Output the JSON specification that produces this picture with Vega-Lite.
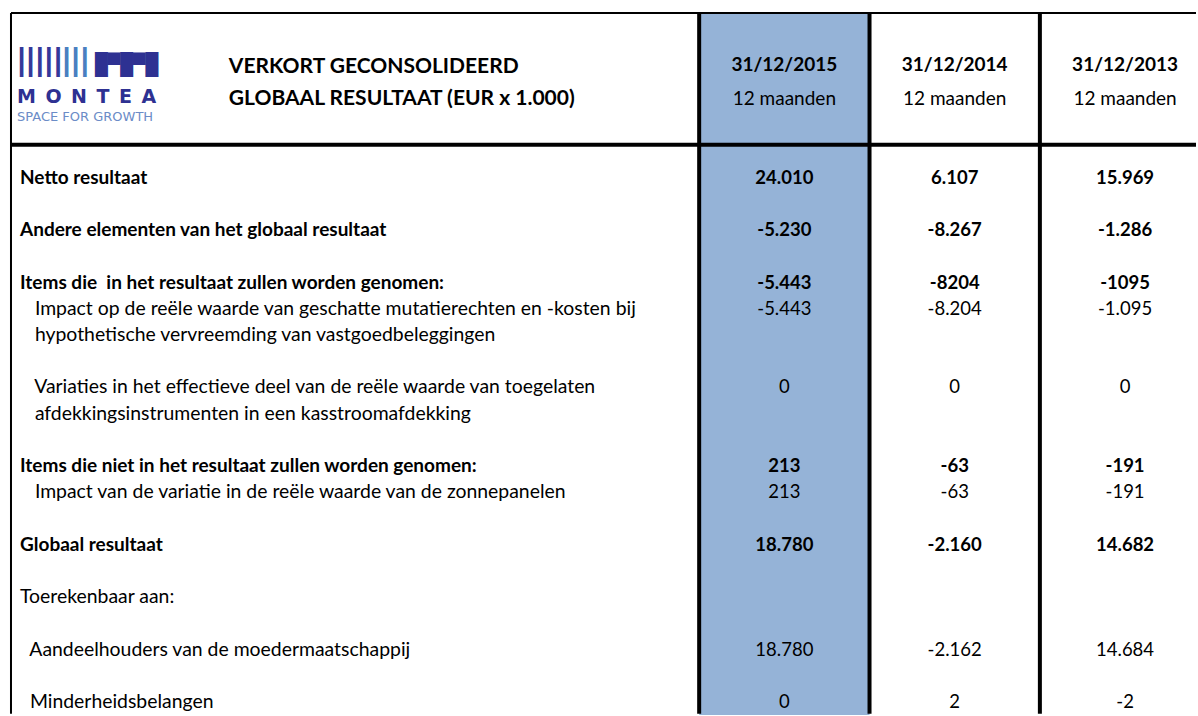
{
  "$schema": "https://vega.github.io/schema/vega-lite/v6.json",
  "width": 1198,
  "height": 716,
  "padding": 0,
  "autosize": {"type": "fit", "contains": "padding"},
  "background": "white",
  "config": {"view": {"stroke": null}, "text": {"font": "Lato", "fontSize": 18.5, "color": "#000000", "baseline": "middle"}},
  "datasets": {
    "periods": [
      {"period": "31/12/2015", "col": 1, "months": "12 maanden", "current": true},
      {"period": "31/12/2014", "col": 2, "months": "12 maanden", "current": false},
      {"period": "31/12/2013", "col": 3, "months": "12 maanden", "current": false}
    ],
    "labels": [
      {"line": 0, "label": "Netto resultaat", "level": "total"},
      {"line": 2, "label": "Andere elementen van het globaal resultaat", "level": "total"},
      {"line": 4, "label": "Items die\u00a0 in het resultaat zullen worden genomen:", "level": "total"},
      {"line": 5, "label": "\u200b\u00a0\u00a0\u00a0Impact op de reële waarde van geschatte mutatierechten en -kosten bij", "level": "detail"},
      {"line": 6, "label": "\u200b\u00a0\u00a0\u00a0hypothetische vervreemding van vastgoedbeleggingen", "level": "detail"},
      {"line": 8, "label": "\u200b\u00a0\u00a0\u00a0Variaties in het effectieve deel van de reële waarde van toegelaten", "level": "detail"},
      {"line": 9, "label": "\u200b\u00a0\u00a0\u00a0afdekkingsinstrumenten in een kasstroomafdekking", "level": "detail"},
      {"line": 11, "label": "Items die niet in het resultaat zullen worden genomen:", "level": "total"},
      {"line": 12, "label": "\u200b\u00a0\u00a0\u00a0Impact van de variatie in de reële waarde van de zonnepanelen", "level": "detail"},
      {"line": 14, "label": "Globaal resultaat", "level": "total"},
      {"line": 16, "label": "Toerekenbaar aan:", "level": "detail"},
      {"line": 18, "label": "\u200b\u00a0\u00a0Aandeelhouders van de moedermaatschappij", "level": "detail"},
      {"line": 20, "label": "\u200b\u00a0\u00a0Minderheidsbelangen", "level": "detail"}
    ],
    "cells": [
      {"line": 0, "period": "31/12/2015", "value": "24.010", "level": "total"},
      {"line": 0, "period": "31/12/2014", "value": "6.107", "level": "total"},
      {"line": 0, "period": "31/12/2013", "value": "15.969", "level": "total"},
      {"line": 2, "period": "31/12/2015", "value": "-5.230", "level": "total"},
      {"line": 2, "period": "31/12/2014", "value": "-8.267", "level": "total"},
      {"line": 2, "period": "31/12/2013", "value": "-1.286", "level": "total"},
      {"line": 4, "period": "31/12/2015", "value": "-5.443", "level": "total"},
      {"line": 4, "period": "31/12/2014", "value": "-8204", "level": "total"},
      {"line": 4, "period": "31/12/2013", "value": "-1095", "level": "total"},
      {"line": 5, "period": "31/12/2015", "value": "-5.443", "level": "detail"},
      {"line": 5, "period": "31/12/2014", "value": "-8.204", "level": "detail"},
      {"line": 5, "period": "31/12/2013", "value": "-1.095", "level": "detail"},
      {"line": 8, "period": "31/12/2015", "value": "0", "level": "detail"},
      {"line": 8, "period": "31/12/2014", "value": "0", "level": "detail"},
      {"line": 8, "period": "31/12/2013", "value": "0", "level": "detail"},
      {"line": 11, "period": "31/12/2015", "value": "213", "level": "total"},
      {"line": 11, "period": "31/12/2014", "value": "-63", "level": "total"},
      {"line": 11, "period": "31/12/2013", "value": "-191", "level": "total"},
      {"line": 12, "period": "31/12/2015", "value": "213", "level": "detail"},
      {"line": 12, "period": "31/12/2014", "value": "-63", "level": "detail"},
      {"line": 12, "period": "31/12/2013", "value": "-191", "level": "detail"},
      {"line": 14, "period": "31/12/2015", "value": "18.780", "level": "total"},
      {"line": 14, "period": "31/12/2014", "value": "-2.160", "level": "total"},
      {"line": 14, "period": "31/12/2013", "value": "14.682", "level": "total"},
      {"line": 18, "period": "31/12/2015", "value": "18.780", "level": "detail"},
      {"line": 18, "period": "31/12/2014", "value": "-2.162", "level": "detail"},
      {"line": 18, "period": "31/12/2013", "value": "14.684", "level": "detail"},
      {"line": 20, "period": "31/12/2015", "value": "0", "level": "detail"},
      {"line": 20, "period": "31/12/2014", "value": "2", "level": "detail"},
      {"line": 20, "period": "31/12/2013", "value": "-2", "level": "detail"}
    ]
  },
  "layer": [
    {
      "data": {"name": "periods"},
      "transform": [{"filter": "datum.current"}],
      "mark": {"type": "rect", "color": "#95B3D7"},
      "encoding": {
        "x": {"datum": 0.5, "type": "quantitative", "scale": {"domain": [-3.60411, 3.42229], "nice": false, "zero": false}, "axis": null},
        "x2": {"datum": 1.5},
        "y": {"datum": -6.286, "type": "quantitative", "scale": {"domain": [-6.781, 20.495], "nice": false, "zero": false, "reverse": true}, "axis": null},
        "y2": {"datum": 20.495}
      }
    },
    {
      "data": {"values": [{}]},
      "mark": {"type": "rule", "color": "#000000", "strokeWidth": 2},
      "encoding": {
        "x": {"datum": -3.5396, "type": "quantitative", "scale": {"domain": [-3.60411, 3.42229], "nice": false, "zero": false}, "axis": null},
        "x2": {"datum": 3.4164},
        "y": {"datum": -6.286, "type": "quantitative", "scale": {"domain": [-6.781, 20.495], "nice": false, "zero": false, "reverse": true}, "axis": null}
      }
    },
    {
      "data": {"values": [{}]},
      "mark": {"type": "rule", "color": "#000000", "strokeWidth": 4},
      "encoding": {
        "x": {"datum": -3.5396, "type": "quantitative", "scale": {"domain": [-3.60411, 3.42229], "nice": false, "zero": false}, "axis": null},
        "x2": {"datum": 3.4164},
        "y": {"datum": -1.2571, "type": "quantitative", "scale": {"domain": [-6.781, 20.495], "nice": false, "zero": false, "reverse": true}, "axis": null}
      }
    },
    {
      "data": {"values": [{}]},
      "mark": {"type": "rule", "color": "#000000", "strokeWidth": 2},
      "encoding": {
        "x": {"datum": -3.5396, "type": "quantitative", "scale": {"domain": [-3.60411, 3.42229], "nice": false, "zero": false}, "axis": null},
        "y": {"datum": -6.286, "type": "quantitative", "scale": {"domain": [-6.781, 20.495], "nice": false, "zero": false, "reverse": true}, "axis": null},
        "y2": {"datum": 20.45}
      }
    },
    {
      "data": {"values": [{}]},
      "mark": {"type": "rule", "color": "#000000", "strokeWidth": 4},
      "encoding": {
        "x": {"datum": 0.5, "type": "quantitative", "scale": {"domain": [-3.60411, 3.42229], "nice": false, "zero": false}, "axis": null},
        "y": {"datum": -6.286, "type": "quantitative", "scale": {"domain": [-6.781, 20.495], "nice": false, "zero": false, "reverse": true}, "axis": null},
        "y2": {"datum": 20.45}
      }
    },
    {
      "data": {"values": [{}]},
      "mark": {"type": "rule", "color": "#000000", "strokeWidth": 4},
      "encoding": {
        "x": {"datum": 1.5, "type": "quantitative", "scale": {"domain": [-3.60411, 3.42229], "nice": false, "zero": false}, "axis": null},
        "y": {"datum": -6.286, "type": "quantitative", "scale": {"domain": [-6.781, 20.495], "nice": false, "zero": false, "reverse": true}, "axis": null},
        "y2": {"datum": 20.45}
      }
    },
    {
      "data": {"values": [{}]},
      "mark": {"type": "rule", "color": "#000000", "strokeWidth": 4},
      "encoding": {
        "x": {"datum": 2.5, "type": "quantitative", "scale": {"domain": [-3.60411, 3.42229], "nice": false, "zero": false}, "axis": null},
        "y": {"datum": -6.286, "type": "quantitative", "scale": {"domain": [-6.781, 20.495], "nice": false, "zero": false, "reverse": true}, "axis": null},
        "y2": {"datum": 20.45}
      }
    },
    {
      "data": {"values": [{"text": "lllll"}]},
      "mark": {"type": "text", "font": "Liberation Sans", "fontSize": 41, "color": "#34399A", "align": "left", "baseline": "alphabetic"},
      "encoding": {
        "x": {"datum": -3.5044, "type": "quantitative", "scale": {"domain": [-3.60411, 3.42229], "nice": false, "zero": false}, "axis": null},
        "y": {"datum": -3.848, "type": "quantitative", "scale": {"domain": [-6.781, 20.495], "nice": false, "zero": false, "reverse": true}, "axis": null},
        "text": {"field": "text"}
      }
    },
    {
      "data": {"values": [{"text": "lll"}]},
      "mark": {"type": "text", "font": "Liberation Sans", "fontSize": 41, "color": "#4A7FC1", "align": "left", "baseline": "alphabetic", "dx": 45},
      "encoding": {
        "x": {"datum": -3.5044, "type": "quantitative", "scale": {"domain": [-3.60411, 3.42229], "nice": false, "zero": false}, "axis": null},
        "y": {"datum": -3.848, "type": "quantitative", "scale": {"domain": [-6.781, 20.495], "nice": false, "zero": false, "reverse": true}, "axis": null},
        "text": {"field": "text"}
      }
    },
    {
      "data": {"values": [{"text": "█▀█▀█"}]},
      "mark": {"type": "text", "font": "DejaVu Sans Mono", "fontSize": 21, "color": "#2E3192", "align": "left", "baseline": "alphabetic"},
      "encoding": {
        "x": {"datum": -3.0469, "type": "quantitative", "scale": {"domain": [-3.60411, 3.42229], "nice": false, "zero": false}, "axis": null},
        "y": {"datum": -4.038, "type": "quantitative", "scale": {"domain": [-6.781, 20.495], "nice": false, "zero": false, "reverse": true}, "axis": null},
        "text": {"field": "text"}
      }
    },
    {
      "data": {"values": [{"text": "M\u2002O\u2002N\u2002T\u2002E\u2002A"}]},
      "mark": {"type": "text", "font": "DejaVu Sans", "fontWeight": "bold", "fontSize": 19, "color": "#2E3192", "align": "left"},
      "encoding": {
        "x": {"datum": -3.5044, "type": "quantitative", "scale": {"domain": [-3.60411, 3.42229], "nice": false, "zero": false}, "axis": null},
        "y": {"datum": -3.067, "type": "quantitative", "scale": {"domain": [-6.781, 20.495], "nice": false, "zero": false, "reverse": true}, "axis": null},
        "text": {"field": "text"}
      }
    },
    {
      "data": {"values": [{"text": "SPACE FOR GROWTH"}]},
      "mark": {"type": "text", "font": "DejaVu Sans", "fontSize": 13, "color": "#6B8CC7", "align": "left"},
      "encoding": {
        "x": {"datum": -3.5044, "type": "quantitative", "scale": {"domain": [-3.60411, 3.42229], "nice": false, "zero": false}, "axis": null},
        "y": {"datum": -2.305, "type": "quantitative", "scale": {"domain": [-6.781, 20.495], "nice": false, "zero": false, "reverse": true}, "axis": null},
        "text": {"field": "text"}
      }
    },
    {
      "data": {"values": [{}]},
      "mark": {"type": "text", "fontWeight": "bold", "fontSize": 21, "align": "left", "lineHeight": 32},
      "encoding": {
        "x": {"datum": -2.261, "type": "quantitative", "scale": {"domain": [-3.60411, 3.42229], "nice": false, "zero": false}, "axis": null},
        "y": {"datum": -4.23, "type": "quantitative", "scale": {"domain": [-6.781, 20.495], "nice": false, "zero": false, "reverse": true}, "axis": null},
        "text": {"value": ["VERKORT GECONSOLIDEERD", "GLOBAAL RESULTAAT (EUR x 1.000)"]}
      }
    },
    {
      "data": {"name": "periods"},
      "mark": {"type": "text", "fontWeight": "bold", "fontSize": 19, "align": "center"},
      "encoding": {
        "x": {"field": "col", "type": "quantitative", "scale": {"domain": [-3.60411, 3.42229], "nice": false, "zero": false}, "axis": null},
        "y": {"datum": -4.286, "type": "quantitative", "scale": {"domain": [-6.781, 20.495], "nice": false, "zero": false, "reverse": true}, "axis": null},
        "text": {"field": "period"}
      }
    },
    {
      "data": {"name": "periods"},
      "mark": {"type": "text", "fontSize": 19, "align": "center"},
      "encoding": {
        "x": {"field": "col", "type": "quantitative", "scale": {"domain": [-3.60411, 3.42229], "nice": false, "zero": false}, "axis": null},
        "y": {"datum": -3.01, "type": "quantitative", "scale": {"domain": [-6.781, 20.495], "nice": false, "zero": false, "reverse": true}, "axis": null},
        "text": {"field": "months"}
      }
    },
    {
      "data": {"name": "labels"},
      "transform": [{"filter": "datum.level === 'total'"}],
      "mark": {"type": "text", "fontWeight": "bold", "fontSize": 19, "align": "left"},
      "encoding": {
        "x": {"datum": -3.4868, "type": "quantitative", "scale": {"domain": [-3.60411, 3.42229], "nice": false, "zero": false}, "axis": null},
        "y": {"field": "line", "type": "quantitative", "scale": {"domain": [-6.781, 20.495], "nice": false, "zero": false, "reverse": true}, "axis": null},
        "text": {"field": "label"}
      }
    },
    {
      "data": {"name": "labels"},
      "transform": [{"filter": "datum.level === 'detail'"}],
      "mark": {"type": "text", "fontSize": 19.4, "align": "left"},
      "encoding": {
        "x": {"datum": -3.4868, "type": "quantitative", "scale": {"domain": [-3.60411, 3.42229], "nice": false, "zero": false}, "axis": null},
        "y": {"field": "line", "type": "quantitative", "scale": {"domain": [-6.781, 20.495], "nice": false, "zero": false, "reverse": true}, "axis": null},
        "text": {"field": "label"}
      }
    },
    {
      "data": {"name": "cells"},
      "transform": [
        {"lookup": "period", "from": {"data": {"name": "periods"}, "key": "period", "fields": ["col"]}},
        {"filter": "datum.level === 'total'"}
      ],
      "mark": {"type": "text", "fontWeight": "bold", "align": "center"},
      "encoding": {
        "x": {"field": "col", "type": "quantitative", "scale": {"domain": [-3.60411, 3.42229], "nice": false, "zero": false}, "axis": null},
        "y": {"field": "line", "type": "quantitative", "scale": {"domain": [-6.781, 20.495], "nice": false, "zero": false, "reverse": true}, "axis": null},
        "text": {"field": "value"}
      }
    },
    {
      "data": {"name": "cells"},
      "transform": [
        {"lookup": "period", "from": {"data": {"name": "periods"}, "key": "period", "fields": ["col"]}},
        {"filter": "datum.level === 'detail'"}
      ],
      "mark": {"type": "text", "align": "center"},
      "encoding": {
        "x": {"field": "col", "type": "quantitative", "scale": {"domain": [-3.60411, 3.42229], "nice": false, "zero": false}, "axis": null},
        "y": {"field": "line", "type": "quantitative", "scale": {"domain": [-6.781, 20.495], "nice": false, "zero": false, "reverse": true}, "axis": null},
        "text": {"field": "value"}
      }
    }
  ]
}
